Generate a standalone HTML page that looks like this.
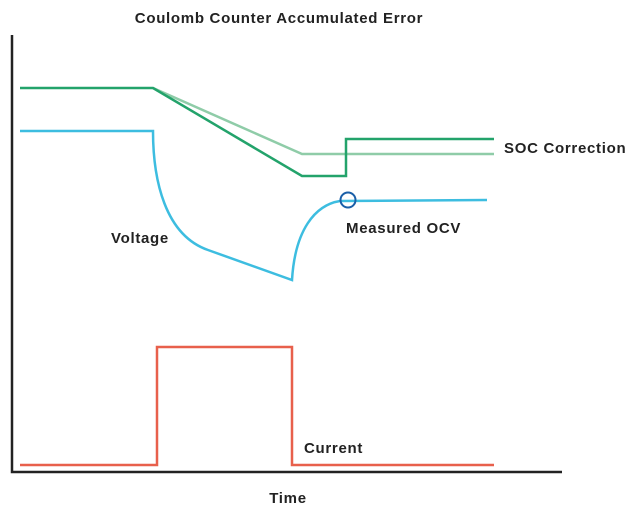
<!DOCTYPE html>
<html><head><meta charset="utf-8"><style>
html,body{margin:0;padding:0;background:#fff;}
svg{display:block;}
text{font-family:"Liberation Sans",sans-serif;font-weight:bold;fill:#222;letter-spacing:0.7px;}
</style></head><body>
<svg width="638" height="515" viewBox="0 0 638 515" xmlns="http://www.w3.org/2000/svg">
<text x="279" y="23" font-size="15" text-anchor="middle">Coulomb Counter Accumulated Error</text>
<polyline points="12,35 12,472 562,472" fill="none" stroke="#222" stroke-width="2.5"/>
<polyline points="153,88 302,154 494,154" fill="none" stroke="#8fcca8" stroke-width="2.5"/>
<polyline points="20,88 153,88 302,176 346,176 346,139 494,139" fill="none" stroke="#23a36b" stroke-width="2.5"/>
<path d="M20,131 L153,131 C153,180 165,235 208,250 L292,280 C295,230 315,205 340,201 L487,200" fill="none" stroke="#3dbde0" stroke-width="2.5"/>
<circle cx="348" cy="200" r="7.5" fill="none" stroke="#1a5fa8" stroke-width="2"/>
<polyline points="20,465 157,465 157,347 292,347 292,465 494,465" fill="none" stroke="#e8604c" stroke-width="2.5"/>
<text x="504" y="153" font-size="15">SOC Correction</text>
<text x="346" y="233" font-size="15">Measured OCV</text>
<text x="111" y="243" font-size="15">Voltage</text>
<text x="304" y="453" font-size="15">Current</text>
<text x="288" y="503" font-size="15" text-anchor="middle">Time</text>
</svg>
</body></html>
